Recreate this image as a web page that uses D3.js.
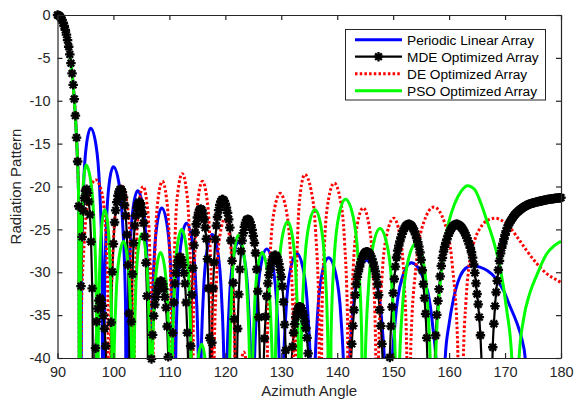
<!DOCTYPE html>
<html>
<head>
<meta charset="utf-8">
<script src="https://cdn.jsdelivr.net/npm/d3@7"></script>
<style>
  body { margin: 0; background: #fff; }
  svg { display: block; font-family: "Liberation Sans", Arial, Helvetica, sans-serif; }
</style>
</head>
<body>
<svg id="chart" width="574" height="401"></svg>
<script>
// ---- data: azimuth angle (deg) vs radiation pattern (dB) ----
const xTicks = [90, 100, 110, 120, 130, 140, 150, 160, 170, 180];
const yTicks = [-40, -35, -30, -25, -20, -15, -10, -5, 0];
const seriesNames = ["Periodic Linear Array", "MDE Optimized Array", "DE Optimized Array", "PSO Optimized Array"];

// main beam shared by all four arrays
const mainBeam = [[90, 0], [90.5, -0.22], [91, -0.9], [91.5, -2.0], [92, -3.7], [92.5, -6.2], [93, -9.8], [93.4, -14.3], [93.8, -22.3]];

const periodicLinear = [...mainBeam, [94.1, -80],
  [94.28, -29.2], [94.65, -20.1], [95.2, -15.0], [95.93, -13.2], [96.84, -15.0], [97.52, -20.1], [97.97, -29.2], [98.2, -80],
  [98.38, -33.7], [98.73, -24.6], [99.27, -19.5], [99.98, -17.7], [100.95, -19.5], [101.67, -24.6], [102.16, -33.7], [102.4, -80],
  [102.59, -36.5], [102.98, -27.4], [103.56, -22.3], [104.34, -20.5], [105.24, -22.3], [105.92, -27.4], [106.37, -36.5], [106.6, -80],
  [106.8, -38.5], [107.21, -29.4], [107.82, -24.3], [108.63, -22.5], [109.54, -24.3], [110.22, -29.4], [110.67, -38.5], [110.9, -80],
  [111.12, -40.3], [111.55, -31.2], [112.19, -26.1], [113.05, -24.3], [113.99, -26.1], [114.7, -31.2], [115.17, -40.3], [115.4, -80],
  [115.63, -41.6], [116.08, -32.5], [116.75, -27.4], [117.65, -25.6], [118.59, -27.4], [119.3, -32.5], [119.77, -41.6], [120.0, -80],
  [120.24, -42.5], [120.72, -33.4], [121.44, -28.3], [122.4, -26.5], [123.38, -28.3], [124.12, -33.4], [124.61, -42.5], [124.85, -80],
  [125.11, -43.3], [125.62, -34.2], [126.38, -29.1], [127.4, -27.3], [128.44, -29.1], [129.22, -34.2], [129.74, -43.3], [130.0, -80],
  [130.28, -43.8], [130.83, -34.7], [131.66, -29.6], [132.76, -27.8], [133.9, -29.6], [134.75, -34.7], [135.32, -43.8], [135.6, -80],
  [135.89, -44.3], [136.46, -35.2], [137.31, -30.1], [138.45, -28.3], [139.71, -30.1], [140.66, -35.2], [141.29, -44.3], [141.6, -80],
  [141.96, -44.6], [142.68, -35.5], [143.76, -30.4], [145.2, -28.6], [146.76, -30.4], [147.93, -35.5], [148.71, -44.6], [149.1, -80],
  [149.52, -44.9], [150.35, -35.8], [151.59, -30.7], [153.25, -28.9], [155.39, -30.7], [156.99, -35.8], [158.07, -44.9], [158.6, -80],
  [159.3, -40], [160.0, -36.0], [160.75, -33.2], [161.95, -30.5], [163.0, -29.5], [164.2, -29.2], [165.5, -29.4], [166.8, -29.8],
  [168.2, -30.6], [169.7, -32.1], [170.9, -34.0], [172.1, -35.9], [173.0, -37.8], [173.6, -40], [174.0, -80],
  [177, -46], [180, -60]];

const mdeOptimized = [...mainBeam, [94.0, -80],
  [94.12, -36.3], [94.35, -27.2], [94.69, -22.1], [95.15, -20.3], [95.65, -22.1], [96.03, -27.2], [96.28, -36.3], [96.4, -80],
  [96.52, -49], [96.76, -39.9], [97.12, -34.8], [97.6, -33], [98.16, -34.8], [98.7, -39.9], [99.2, -49], [99.4, -80],
  [99.59, -36.3], [99.97, -27.2], [100.54, -22.1], [101.3, -20.3], [101.98, -22.1], [102.49, -27.2], [102.83, -36.3], [103.0, -80],
  [103.16, -37.8], [103.48, -28.7], [103.96, -23.6], [104.6, -21.8], [105.28, -23.6], [105.79, -28.7], [106.13, -37.8], [106.3, -80],
  [106.52, -47], [106.96, -37.9], [107.62, -32.8], [108.5, -31], [109.18, -32.8], [109.69, -37.9], [110.03, -47], [110.2, -80],
  [110.37, -44.2], [110.71, -35.1], [111.22, -30.0], [111.9, -28.2], [112.58, -30.0], [113.09, -35.1], [113.43, -44.2], [113.6, -80],
  [113.8, -38.6], [114.2, -29.5], [114.8, -24.4], [115.6, -22.6], [116.32, -24.4], [116.86, -29.5], [117.22, -38.6], [117.4, -80],
  [117.61, -37.5], [118.03, -28.4], [118.66, -23.3], [119.5, -21.5], [120.46, -23.3], [121.18, -28.4], [121.66, -37.5], [121.9, -80],
  [122.11, -39.8], [122.53, -30.7], [123.16, -25.6], [124.0, -23.8], [124.96, -25.6], [125.68, -30.7], [126.16, -39.8], [126.5, -80],
  [126.74, -44], [127.22, -34.9], [127.94, -29.8], [128.9, -28], [129.82, -29.8], [130.51, -34.9], [130.97, -44], [131.2, -80],
  [131.41, -50], [131.83, -40.9], [132.46, -35.8], [133.3, -34], [134.22, -35.8], [134.91, -40.9], [135.37, -50], [135.6, -80],
  [138.8, -48], [142.0, -80],
  [142.33, -43.6], [142.99, -34.5], [143.98, -29.4], [145.3, -27.6], [146.62, -29.4], [147.61, -34.5], [148.27, -43.6], [148.8, -80],
  [149.38, -40.4], [150.14, -31.3], [151.28, -26.2], [152.8, -24.4], [154.28, -26.2], [155.39, -31.3], [156.13, -40.4], [156.6, -80],
  [157.43, -40.4], [158.29, -31.3], [159.58, -26.2], [161.3, -24.4], [163.3, -26.2], [164.8, -31.3], [165.8, -40.4], [166.3, -80],
  [166.9, -45], [167.5, -80],
  [167.75, -40], [168.1, -35], [168.6, -31], [169.1, -28.2], [169.7, -26.4], [170.3, -25.0], [171.4, -23.6], [172.7, -22.7],
  [174.2, -22.1], [175.7, -21.8], [177.8, -21.5], [180, -21.3]];

const deOptimized = [...mainBeam, [94.0, -80],
  [94.25, -35.4], [94.8, -26.3], [95.6, -21.2], [96.8, -19.2], [97.8, -20.4], [98.5, -24.0], [99.0, -33.0], [99.3, -80],
  [99.52, -36], [99.95, -26.9], [100.65, -21.8], [101.6, -20], [102.4, -21.8], [103.0, -26.9], [103.4, -36], [103.6, -80],
  [103.77, -36], [104.11, -26.9], [104.62, -21.8], [105.3, -20], [105.96, -21.8], [106.46, -26.9], [106.79, -36], [106.95, -80],
  [107.13, -35.4], [107.49, -26.3], [108.03, -21.2], [108.75, -19.4], [109.45, -21.2], [109.98, -26.3], [110.33, -35.4], [110.5, -80],
  [110.68, -34.5], [111.04, -25.4], [111.58, -20.3], [112.3, -18.5], [113.02, -20.3], [113.56, -25.4], [113.92, -34.5], [114.1, -80],
  [114.28, -35.4], [114.64, -26.3], [115.18, -21.2], [115.9, -19.4], [116.66, -21.2], [117.23, -26.3], [117.61, -35.4], [117.8, -80],
  [118.01, -39.8], [118.43, -30.7], [119.06, -25.6], [119.9, -23.8], [120.7, -25.6], [121.3, -30.7], [121.7, -39.8], [121.9, -80],
  [122.04, -55.3], [122.32, -46.2], [122.74, -41.1], [123.3, -39.3], [123.82, -41.1], [124.21, -46.2], [124.47, -55.3], [124.6, -80],
  [126.0, -47], [127.3, -80],
  [127.55, -36.8], [128.05, -27.7], [128.8, -22.6], [129.8, -20.8], [130.84, -22.6], [131.62, -27.7], [132.14, -36.8], [132.4, -80],
  [132.58, -34.6], [132.94, -25.5], [133.48, -20.4], [134.2, -18.6], [135.32, -20.4], [136.16, -25.5], [136.72, -34.6], [137.0, -80],
  [137.25, -35.6], [137.74, -26.5], [138.47, -21.4], [139.45, -19.6], [140.51, -21.4], [141.31, -26.5], [141.84, -35.6], [142.1, -80],
  [142.36, -38.5], [142.87, -29.4], [143.63, -24.3], [144.65, -22.5], [145.63, -24.3], [146.37, -29.4], [146.86, -38.5], [147.1, -80],
  [147.4, -39.7], [148.0, -30.6], [148.9, -25.5], [150.1, -23.7], [151.14, -25.5], [151.92, -30.6], [152.44, -39.7], [152.7, -80],
  [153.16, -38.4], [154.08, -29.3], [155.46, -24.2], [157.3, -22.4], [159.18, -24.2], [160.59, -29.3], [161.53, -38.4], [162.0, -80],
  [162.55, -40], [163.0, -33.5], [163.7, -28.6], [164.6, -26.2], [165.8, -24.6], [167.0, -23.9], [168.2, -23.7], [169.5, -24.0],
  [171.0, -24.9], [172.5, -26.2], [174.0, -27.6], [175.7, -29.0], [177.5, -30.2], [179.5, -31.0], [180, -31.2]];

const psoOptimized = [...mainBeam, [94.0, -80],
  [94.11, -33.5], [94.33, -24.4], [94.66, -19.3], [95.1, -17.5], [95.92, -19.3], [96.54, -24.4], [96.95, -33.5], [97.15, -80],
  [97.28, -38.7], [97.54, -29.6], [97.92, -24.5], [98.44, -22.7], [99.0, -24.5], [99.43, -29.6], [99.71, -38.7], [99.85, -80],
  [100.05, -42.4], [100.44, -33.3], [101.02, -28.2], [101.8, -26.4], [102.48, -28.2], [102.99, -33.3], [103.33, -42.4], [103.5, -80],
  [103.66, -41.5], [103.97, -32.4], [104.43, -27.3], [105.05, -25.5], [105.71, -27.3], [106.21, -32.4], [106.54, -41.5], [106.7, -80],
  [106.87, -43.7], [107.21, -34.6], [107.73, -29.5], [108.41, -27.7], [109.17, -29.5], [109.73, -34.6], [110.11, -43.7], [110.3, -80],
  [110.49, -41.0], [110.87, -31.9], [111.44, -26.8], [112.2, -25.0], [112.96, -26.8], [113.53, -31.9], [113.91, -41.0], [114.1, -80],
  [114.27, -54.4], [114.6, -45.3], [115.11, -40.2], [115.78, -38.4], [116.39, -40.2], [116.84, -45.3], [117.15, -54.4], [117.3, -80],
  [119.0, -46], [120.6, -80],
  [120.77, -41.7], [121.11, -32.6], [121.62, -27.5], [122.3, -25.7], [123.22, -27.5], [123.91, -32.6], [124.37, -41.7], [124.6, -80],
  [124.8, -43.7], [125.19, -34.6], [125.78, -29.5], [126.56, -27.7], [127.42, -29.5], [128.06, -34.6], [128.49, -43.7], [128.7, -80],
  [128.95, -40.1], [129.44, -31.0], [130.17, -25.9], [131.15, -24.1], [132.01, -25.9], [132.66, -31.0], [133.09, -40.1], [133.3, -80],
  [133.57, -38.7], [134.12, -29.6], [134.94, -24.5], [136.03, -22.7], [137.06, -24.5], [137.83, -29.6], [138.34, -38.7], [138.6, -80],
  [138.89, -37.5], [139.46, -28.4], [140.33, -23.3], [141.48, -21.5], [142.77, -23.3], [143.73, -28.4], [144.38, -37.5], [144.7, -80],
  [144.99, -40.9], [145.59, -31.8], [146.47, -26.7], [147.65, -24.9], [148.87, -26.7], [149.79, -31.8], [150.4, -40.9], [150.7, -80],
  [151.04, -42.6], [151.73, -33.5], [152.76, -28.4], [154.14, -26.6], [155.28, -28.4], [156.14, -33.5], [156.71, -42.6], [157.0, -80],
  [157.6, -40], [158.2, -33], [159.0, -27.5], [160.0, -24], [161.0, -22], [162.2, -20.5], [163.3, -19.9], [164.5, -20.3],
  [165.6, -21.8], [166.7, -23.9], [168.0, -26.5], [169.1, -29.4], [170.3, -34.4], [171.2, -40], [171.7, -80],
  [172.5, -40], [173.3, -35.5], [174.4, -32.5], [175.7, -30.3], [177.4, -27.9], [178.8, -26.9], [180, -26.4]];

// ---- layout ----
const svg = d3.select("#chart");
const plot = { left: 57.5, right: 561, top: 15, bottom: 358 };
const axisColor = "#262626";
const markerStep = 0.2;   // angular spacing of the MDE markers

const x = d3.scaleLinear().domain([90, 180]).range([plot.left, plot.right]);
const y = d3.scaleLinear().domain([-40, 0]).range([plot.bottom, plot.top]);

svg.append("rect").attr("width", 574).attr("height", 401).attr("fill", "#fff");

svg.append("defs").append("clipPath").attr("id", "plot-clip")
  .append("rect")
  .attr("x", plot.left).attr("y", plot.top)
  .attr("width", plot.right - plot.left).attr("height", plot.bottom - plot.top);

const line = d3.line()
  .x(d => x(d[0]))
  .y(d => y(d[1]))
  .curve(d3.curveMonotoneX);

const lines = svg.append("g").attr("clip-path", "url(#plot-clip)");

// Periodic linear array
lines.append("path").datum(periodicLinear)
  .attr("d", line).attr("fill", "none")
  .attr("stroke", "#0000ff").attr("stroke-width", 3);

// MDE optimized array: line plus asterisk markers
const mdePath = lines.append("path").datum(mdeOptimized)
  .attr("d", line).attr("fill", "none")
  .attr("stroke", "#000").attr("stroke-width", 2.2);

const asterisk = {
  draw(ctx, size) {
    const r = Math.sqrt(size) / 2;
    const q = r * Math.SQRT1_2;
    ctx.moveTo(-r, 0); ctx.lineTo(r, 0);
    ctx.moveTo(0, -r); ctx.lineTo(0, r);
    ctx.moveTo(-q, -q); ctx.lineTo(q, q);
    ctx.moveTo(-q, q); ctx.lineTo(q, -q);
  }
};

// markers sit on the drawn MDE curve at a fixed angular interval
const node = mdePath.node();
const total = node.getTotalLength();
const trace = [];
for (let s = 0; s <= total; s += 1) trace.push(node.getPointAtLength(s));
trace.push(node.getPointAtLength(total));
const markerPts = [];
let j = 0;
for (const a of d3.range(90, 180 + 1e-6, markerStep)) {
  const px = x(a);
  while (j < trace.length - 2 && trace[j + 1].x < px) j++;
  const p0 = trace[j], p1 = trace[j + 1];
  const t = p1.x === p0.x ? 0 : Math.max(0, Math.min(1, (px - p0.x) / (p1.x - p0.x)));
  const py = p0.y + t * (p1.y - p0.y);
  if (py <= plot.bottom + 1) markerPts.push([px, py]);
}
svg.append("g").selectAll("path").data(markerPts).join("path")
  .attr("transform", d => `translate(${d[0]},${d[1]})`)
  .attr("d", d3.symbol().type(asterisk).size(90))
  .attr("fill", "none").attr("stroke", "#000").attr("stroke-width", 2.3);

// DE optimized array
lines.append("path").datum(deOptimized)
  .attr("d", line).attr("fill", "none")
  .attr("stroke", "#ff0000").attr("stroke-width", 3)
  .attr("stroke-dasharray", "2.5,2.2");

// PSO optimized array
lines.append("path").datum(psoOptimized)
  .attr("d", line).attr("fill", "none")
  .attr("stroke", "#00ff00").attr("stroke-width", 3);

// ---- axes (box with inward ticks) ----
const fmt = d => String(d);
function styleAxis(g) {
  g.selectAll(".domain").attr("stroke", axisColor).attr("stroke-width", 1.2);
  g.selectAll(".tick line").attr("stroke", axisColor).attr("stroke-width", 1.2);
  g.selectAll(".tick text").attr("fill", axisColor).attr("font-size", 14.5)
    .attr("font-family", "'Liberation Sans', Arial, sans-serif");
}
svg.append("g").attr("transform", `translate(0,${plot.bottom})`)
  .call(d3.axisBottom(x).tickValues(xTicks).tickFormat(fmt).tickSizeInner(-5).tickSizeOuter(0).tickPadding(9))
  .call(styleAxis);
svg.append("g").attr("transform", `translate(0,${plot.top})`)
  .call(d3.axisTop(x).tickValues(xTicks).tickFormat("").tickSizeInner(-5).tickSizeOuter(0))
  .call(styleAxis);
svg.append("g").attr("transform", `translate(${plot.left},0)`)
  .call(d3.axisLeft(y).tickValues(yTicks).tickFormat(fmt).tickSizeInner(-5).tickSizeOuter(0).tickPadding(7))
  .call(styleAxis);
svg.append("g").attr("transform", `translate(${plot.right},0)`)
  .call(d3.axisRight(y).tickValues(yTicks).tickFormat("").tickSizeInner(-5).tickSizeOuter(0))
  .call(styleAxis);

// axis titles
svg.append("text")
  .attr("x", (plot.left + plot.right) / 2).attr("y", 396)
  .attr("text-anchor", "middle").attr("font-size", 15).attr("fill", axisColor)
  .text("Azimuth Angle");
svg.append("text")
  .attr("transform", `translate(21,${(plot.top + plot.bottom) / 2}) rotate(-90)`)
  .attr("text-anchor", "middle").attr("font-size", 15).attr("fill", axisColor)
  .text("Radiation Pattern");

// ---- legend ----
const legend = svg.append("g");
legend.append("rect")
  .attr("x", 345.5).attr("y", 29.5).attr("width", 200).attr("height", 70.5)
  .attr("fill", "#fff").attr("stroke", axisColor).attr("stroke-width", 1);
const legendStyles = [
  { stroke: "#0000ff", width: 3, dash: null, marker: false },
  { stroke: "#000", width: 2.2, dash: null, marker: true },
  { stroke: "#ff0000", width: 3, dash: "2.5,2.2", marker: false },
  { stroke: "#00ff00", width: 3, dash: null, marker: false }
];
seriesNames.forEach((name, i) => {
  const cy = 39.7 + i * 17;
  const st = legendStyles[i];
  legend.append("line")
    .attr("x1", 355).attr("x2", 402).attr("y1", cy).attr("y2", cy)
    .attr("stroke", st.stroke).attr("stroke-width", st.width)
    .attr("stroke-dasharray", st.dash);
  if (st.marker) {
    legend.append("path")
      .attr("transform", `translate(378.5,${cy})`)
      .attr("d", d3.symbol().type(asterisk).size(90))
      .attr("fill", "none").attr("stroke", "#000").attr("stroke-width", 2.3);
  }
  legend.append("text")
    .attr("x", 407).attr("y", cy + 4.8)
    .attr("font-size", 13.7).attr("fill", "#000")
    .text(name);
});
</script>
</body>
</html>
